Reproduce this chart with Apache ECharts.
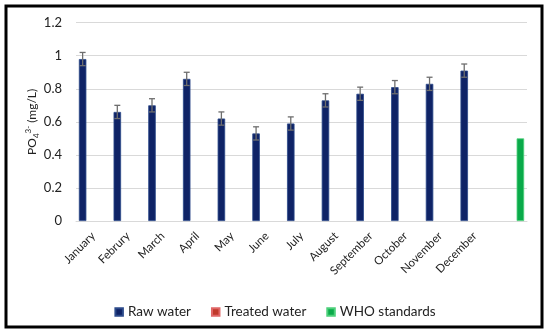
<!DOCTYPE html>
<html><head><meta charset="utf-8">
<script src="https://cdn.jsdelivr.net/npm/echarts@6/dist/echarts.min.js"></script>
<style>html,body{margin:0;padding:0;background:#fff}#c{width:550px;height:334px}</style>
</head><body><div id="c"></div>
<script>
const categories = ['January','Februry','March','April','May','June','July','August','September','October','November','December',''];
const rawWater = [0.98,0.66,0.70,0.86,0.62,0.53,0.59,0.73,0.77,0.81,0.83,0.91,'-'];
const rawError = [0.04,0.04,0.04,0.04,0.04,0.04,0.04,0.04,0.04,0.04,0.04,0.04,0];
const treatedWater = ['-','-','-','-','-','-','-','-','-','-','-','-','-'];
const whoStandards = ['-','-','-','-','-','-','-','-','-','-','-','-',0.5];
const yTicks = [0,0.2,0.4,0.6,0.8,1,1.2];

const BW = 7.5, GAP = 0.43;
const font = 'Lato';
const chart = echarts.init(document.getElementById('c'));
const errData = rawWater.map((v,i)=> v==='-'?null:[i, v-rawError[i], v+rawError[i]]).filter(d=>d);
chart.setOption({
  animation:false,
  textStyle:{fontFamily:font},
  graphic:[{type:'rect',shape:{x:6,y:6,width:536,height:321},style:{fill:'none',stroke:'#000',lineWidth:3},z:100}],
  grid:{left:76,right:23,top:22.7,bottom:113},
  legend:{top:300,left:'center',icon:'rect',itemWidth:7.5,itemHeight:7.5,itemGap:20,
    textStyle:{fontSize:13.5,color:'#222',fontFamily:font},
    data:['Raw water','Treated water','WHO standards']},
  xAxis:{type:'category',data:categories,
    axisLine:{lineStyle:{color:'#d9d9d9',width:1}},axisTick:{show:false},
    axisLabel:{rotate:45,fontSize:11.5,color:'#222',interval:0,margin:13,fontFamily:font}},
  yAxis:{type:'value',min:0,max:1.2,interval:0.2,
    name:'{a|PO}{s|4}{p|3-}{a| (mg/L)}',nameLocation:'middle',nameRotate:90,nameGap:36,nameMoveOverlap:false,
    nameTextStyle:{rich:{a:{fontSize:12,color:'#222',fontFamily:font},s:{fontSize:8,color:'#222',verticalAlign:'bottom',padding:[6,0,0,0],fontFamily:font},p:{fontSize:8,color:'#222',verticalAlign:'top',padding:[0,0,8,0],fontFamily:font}}},
    axisLine:{show:false},axisTick:{show:false},
    splitLine:{lineStyle:{color:'#d9d9d9',width:1.2}},
    axisLabel:{fontSize:13,color:'#222',margin:14,fontFamily:font,
      formatter:v=>{const t=yTicks.find(x=>Math.abs(x-v)<1e-9);return String(t!==undefined?t:v);}}},
  series:[
    {name:'Raw water',type:'bar',data:rawWater,barWidth:BW,barGap:(GAP*100)+'%',
      itemStyle:{color:'#0f2366',borderColor:'#2c4a8a',borderWidth:0.8}},
    {name:'Treated water',type:'bar',data:treatedWater,barWidth:BW,
      itemStyle:{color:'#c0392b',borderColor:'#e06666',borderWidth:0.8}},
    {name:'WHO standards',type:'bar',data:whoStandards,barWidth:BW,
      itemStyle:{color:'#0aaa4a',borderColor:'#4cd07a',borderWidth:0.8}},
    {name:'err',type:'custom',data:errData,z:10,
      renderItem:(params,api)=>{
        const i=api.value(0);
        const lo=api.coord([i,api.value(1)]), hi=api.coord([i,api.value(2)]);
        const off=-(BW*(1+GAP));
        const x=lo[0]+off, cw=3;
        const st={stroke:'#6e6e6e',lineWidth:1.3};
        return {type:'group',children:[
          {type:'line',shape:{x1:x,y1:lo[1],x2:x,y2:hi[1]},style:st},
          {type:'line',shape:{x1:x-cw,y1:hi[1],x2:x+cw,y2:hi[1]},style:st},
          {type:'line',shape:{x1:x-cw,y1:lo[1],x2:x+cw,y2:lo[1]},style:st}
        ]};
      }}
  ]
});
</script></body></html>
